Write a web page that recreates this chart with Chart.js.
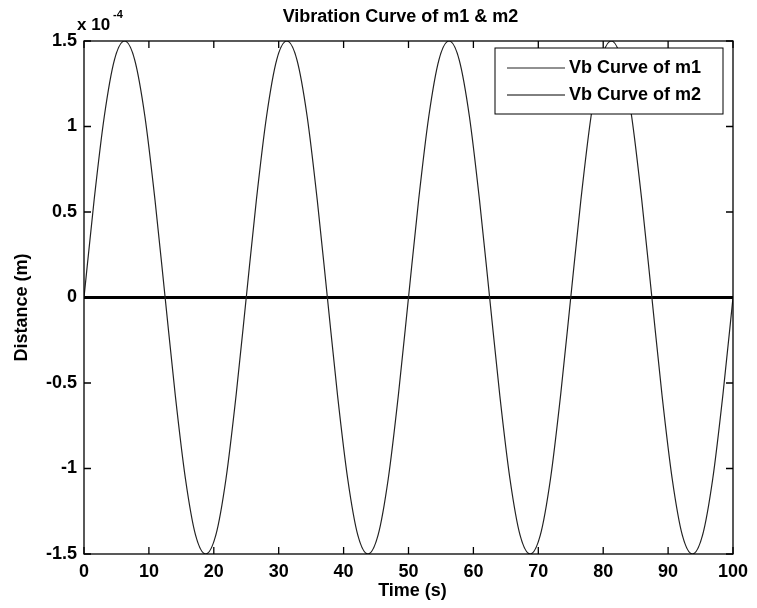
<!DOCTYPE html>
<html>
<head>
<meta charset="utf-8">
<script src="https://cdn.jsdelivr.net/npm/chart.js@4/dist/chart.umd.min.js"></script>
<style>
  html, body { margin: 0; padding: 0; background: #fff; }
  canvas { display: block; }
</style>
</head>
<body>
<canvas id="chart" width="757" height="608"></canvas>
<script>
// データ（グラフから読み取った値、単位 x10^-4 m）
const times = [
  0, 1.56, 3.13, 4.69, 6.25, 7.81, 9.38, 10.94, 12.5, 14.06, 15.63, 17.19, 18.75, 20.31, 21.88, 23.44,
  25, 26.56, 28.13, 29.69, 31.25, 32.81, 34.38, 35.94, 37.5, 39.06, 40.63, 42.19, 43.75, 45.31, 46.88, 48.44,
  50, 51.56, 53.13, 54.69, 56.25, 57.81, 59.38, 60.94, 62.5, 64.06, 65.63, 67.19, 68.75, 70.31, 71.88, 73.44,
  75, 76.56, 78.13, 79.69, 81.25, 82.81, 84.38, 85.94, 87.5, 89.06, 90.63, 92.19, 93.75, 95.31, 96.88, 98.44,
  100
];
const m1Values = [
  0, 0.57, 1.06, 1.39, 1.5, 1.39, 1.06, 0.57, 0, -0.57, -1.06, -1.39, -1.5, -1.39, -1.06, -0.57,
  0, 0.57, 1.06, 1.39, 1.5, 1.39, 1.06, 0.57, 0, -0.57, -1.06, -1.39, -1.5, -1.39, -1.06, -0.57,
  0, 0.57, 1.06, 1.39, 1.5, 1.39, 1.06, 0.57, 0, -0.57, -1.06, -1.39, -1.5, -1.39, -1.06, -0.57,
  0, 0.57, 1.06, 1.39, 1.5, 1.39, 1.06, 0.57, 0, -0.57, -1.06, -1.39, -1.5, -1.39, -1.06, -0.57,
  0
];
const m2Times = [0, 25, 50, 75, 100];
const m2Values = [0, 0, 0, 0, 0];

const xTicks = [0, 10, 20, 30, 40, 50, 60, 70, 80, 90, 100];
const yTicks = [-1.5, -1, -0.5, 0, 0.5, 1, 1.5];
const seriesNames = ['Vb Curve of m1', 'Vb Curve of m2'];

const FONT = "'Liberation Sans', Arial, sans-serif";

// 枠・内向き目盛り・タイトル類
const matlabAxes = {
  id: 'matlabAxes',
  afterDraw(chart) {
    const { ctx, chartArea: a, scales: { x, y } } = chart;
    const tick = 7;
    ctx.save();
    ctx.strokeStyle = '#000';
    ctx.lineWidth = 1.3;
    ctx.strokeRect(a.left, a.top, a.right - a.left, a.bottom - a.top);
    ctx.beginPath();
    xTicks.forEach(v => {
      const px = x.getPixelForValue(v);
      ctx.moveTo(px, a.bottom); ctx.lineTo(px, a.bottom - tick);
      ctx.moveTo(px, a.top); ctx.lineTo(px, a.top + tick);
    });
    yTicks.forEach(v => {
      const py = y.getPixelForValue(v);
      ctx.moveTo(a.left, py); ctx.lineTo(a.left + tick, py);
      ctx.moveTo(a.right, py); ctx.lineTo(a.right - tick, py);
    });
    ctx.stroke();

    ctx.fillStyle = '#000';
    ctx.textBaseline = 'middle';
    // タイトル
    ctx.font = `bold 18px ${FONT}`;
    ctx.textAlign = 'center';
    ctx.fillText('Vibration Curve of m1 & m2', (a.left + a.right) / 2 - 8, a.top - 24);
    // X軸タイトル
    ctx.fillText('Time (s)', (a.left + a.right) / 2 + 4, a.bottom + 37);
    // Y軸タイトル
    ctx.save();
    ctx.translate(22, (a.top + a.bottom) / 2 + 10);
    ctx.rotate(-Math.PI / 2);
    ctx.fillText('Distance (m)', 0, 0);
    ctx.restore();
    // 指数表記
    ctx.textAlign = 'left';
    ctx.font = `bold 17px ${FONT}`;
    ctx.fillText('x 10', a.left - 7, a.top - 16);
    ctx.font = `bold 11px ${FONT}`;
    ctx.fillText('-4', a.left + 29, a.top - 26);

    // 凡例
    const w = 228, h = 66;
    const lx = a.right - 10 - w, ly = a.top + 7;
    ctx.fillStyle = '#fff';
    ctx.fillRect(lx, ly, w, h);
    ctx.lineWidth = 1;
    ctx.strokeStyle = '#000';
    ctx.strokeRect(lx, ly, w, h);
    chart.data.datasets.forEach((ds, i) => {
      const cy = ly + 20 + i * 27;
      ctx.beginPath();
      ctx.strokeStyle = ds.borderColor;
      ctx.lineWidth = 1;
      ctx.moveTo(lx + 12, cy); ctx.lineTo(lx + 70, cy);
      ctx.stroke();
      ctx.fillStyle = '#000';
      ctx.font = `bold 18px ${FONT}`;
      ctx.fillText(seriesNames[i], lx + 74, cy);
    });
    ctx.restore();
  }
};

new Chart(document.getElementById('chart'), {
  type: 'line',
  data: {
    datasets: [{
      label: seriesNames[0],
      data: times.map((t, i) => ({ x: t, y: m1Values[i] })),
      borderColor: '#222',
      borderWidth: 1.2,
      pointRadius: 0,
      cubicInterpolationMode: 'monotone'
    }, {
      label: seriesNames[1],
      data: m2Times.map((t, i) => ({ x: t, y: m2Values[i] })),
      borderColor: '#000',
      borderWidth: 3,
      pointRadius: 0
    }]
  },
  options: {
    responsive: false,
    animation: { duration: 0 },
    layout: { padding: { top: 41, right: 24, left: 0, bottom: 0 } },
    plugins: {
      legend: { display: false },
      title: { display: false },
      tooltip: { enabled: false }
    },
    scales: {
      x: {
        type: 'linear',
        min: 0,
        max: 100,
        afterBuildTicks: s => { s.ticks = xTicks.map(v => ({ value: v })); },
        afterFit: s => { s.height = 54; },
        grid: { display: false, drawTicks: false },
        border: { display: false },
        ticks: { color: '#000', padding: 7, maxRotation: 0, autoSkip: false, font: { family: FONT, size: 18, weight: 'bold' } }
      },
      y: {
        min: -1.5,
        max: 1.5,
        afterBuildTicks: s => { s.ticks = yTicks.map(v => ({ value: v })); },
        afterFit: s => { s.width = 84; },
        grid: { display: false, drawTicks: false },
        border: { display: false },
        ticks: { color: '#000', padding: 7, autoSkip: false, font: { family: FONT, size: 18, weight: 'bold' }, callback: v => String(v) }
      }
    }
  },
  plugins: [matlabAxes]
});
</script>
</body>
</html>
